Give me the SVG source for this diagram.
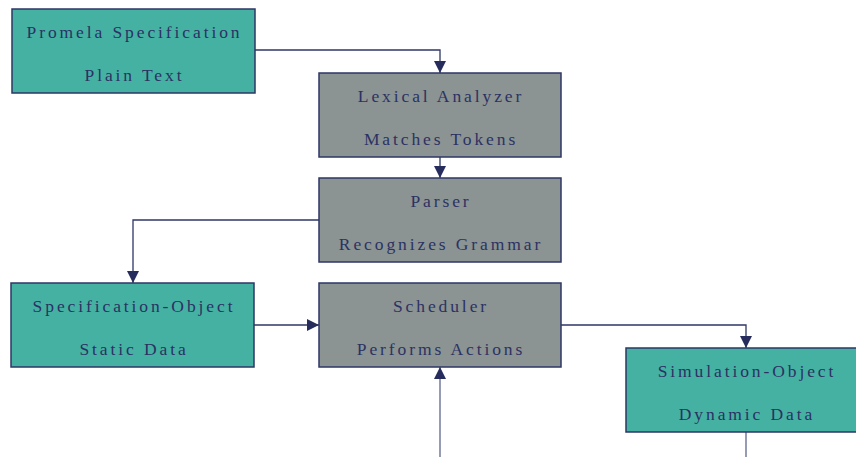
<svg xmlns="http://www.w3.org/2000/svg" width="856" height="457" viewBox="0 0 856 457">
  <style>
    .data rect { fill: #45b1a2; stroke: #2e3766; stroke-width: 1.5; }
    .proc rect { fill: #8b9393; stroke: #2e3766; stroke-width: 1.5; }
    text { font-family: "Liberation Serif", "Times New Roman", serif; font-size: 17.5px; letter-spacing: 2.9px; fill: #2b3262; text-anchor: middle; }
    .links path { fill: none; stroke: #2e3766; stroke-width: 1.3; }
  </style>
  <defs>
    <marker id="arrow" viewBox="0 0 10 10" refX="10" refY="5" markerWidth="12" markerHeight="12" markerUnits="userSpaceOnUse" orient="auto">
      <path d="M0,0 L10,5 L0,10 z" fill="#262d5c"/>
    </marker>
  </defs>

  <g class="links">
    <path d="M255,50 H440 V73" marker-end="url(#arrow)"/>
    <path d="M440,157 V178" marker-end="url(#arrow)"/>
    <path d="M319,220 H133 V283" marker-end="url(#arrow)"/>
    <path d="M254,325 H319" marker-end="url(#arrow)"/>
    <path d="M561,325 H746 V348" marker-end="url(#arrow)"/>
    <path d="M440,457 V367" marker-end="url(#arrow)" style="stroke:#5d668f"/>
    <path d="M746,432 V457" style="stroke:#5d668f"/>
  </g>

  <g id="promela" class="data">
    <rect x="12" y="9" width="243" height="84"/>
    <text x="134.5" y="38">Promela Specification</text>
    <text x="134.5" y="81">Plain Text</text>
  </g>

  <g id="lexer" class="proc">
    <rect x="319" y="73" width="242" height="84"/>
    <text x="441" y="102">Lexical Analyzer</text>
    <text x="441" y="145">Matches Tokens</text>
  </g>

  <g id="parser" class="proc">
    <rect x="319" y="178" width="242" height="84"/>
    <text x="441" y="207">Parser</text>
    <text x="441" y="250">Recognizes Grammar</text>
  </g>

  <g id="spec-object" class="data">
    <rect x="11" y="283" width="243" height="84"/>
    <text x="134" y="312">Specification-Object</text>
    <text x="134" y="355">Static Data</text>
  </g>

  <g id="scheduler" class="proc">
    <rect x="319" y="283" width="242" height="84"/>
    <text x="441" y="312">Scheduler</text>
    <text x="441" y="355">Performs Actions</text>
  </g>

  <g id="sim-object" class="data">
    <rect x="626" y="348" width="240" height="84"/>
    <text x="747" y="377">Simulation-Object</text>
    <text x="747" y="420">Dynamic Data</text>
  </g>
</svg>
